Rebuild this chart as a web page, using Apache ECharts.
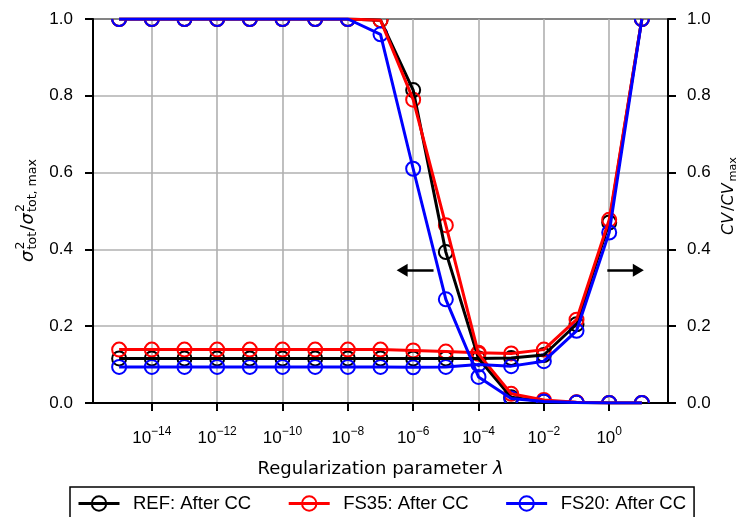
<!DOCTYPE html>
<html>
<head>
<meta charset="utf-8">
<script src="https://cdn.jsdelivr.net/npm/echarts@6/dist/echarts.min.js"></script>
<style>
  html, body { margin: 0; padding: 0; background: #ffffff; }
  #chart { width: 737px; height: 517px; }
</style>
</head>
<body>
<div id="chart"></div>
<script>
// Regularization parameter values (x)
const lambdas = [1e-15, 1e-14, 1e-13, 1e-12, 1e-11, 1e-10, 1e-9, 1e-8, 1e-7,
                 1e-6, 1e-5, 1e-4, 1e-3, 1e-2, 1e-1, 1e0, 1e1];

// Decade ticks shown on the x axis
const xTickValues = [1e-14, 1e-12, 1e-10, 1e-8, 1e-6, 1e-4, 1e-2, 1e0];

// Series labels and colours
const seriesNames = ['REF: After CC', 'FS35: After CC', 'FS20: After CC'];
const seriesColors = ['#000000', '#ff0000', '#0000ff'];

// Normalised total variance (left axis)
const varRef  = [1, 1, 1, 1, 1, 1, 1, 1, 0.997, 0.815, 0.393, 0.116, 0.015, 0.004, 0.001, 0.0, 0.0];
const varFs35 = [1, 1, 1, 1, 1, 1, 1, 1, 0.997, 0.790, 0.463, 0.128, 0.024, 0.008, 0.002, 0.0, 0.0];
const varFs20 = [1, 1, 1, 1, 1, 1, 1, 1, 0.960, 0.610, 0.270, 0.068, 0.012, 0.004, 0.001, 0.0, 0.0];

// Normalised CV (right axis)
const cvRef  = [0.116, 0.116, 0.116, 0.116, 0.116, 0.116, 0.116, 0.116, 0.116, 0.116, 0.116, 0.116, 0.117, 0.125, 0.205, 0.470, 1.0];
const cvFs35 = [0.139, 0.139, 0.139, 0.139, 0.139, 0.139, 0.139, 0.139, 0.139, 0.137, 0.134, 0.131, 0.129, 0.139, 0.217, 0.477, 1.0];
const cvFs20 = [0.094, 0.094, 0.094, 0.094, 0.094, 0.094, 0.094, 0.094, 0.094, 0.093, 0.094, 0.100, 0.096, 0.109, 0.188, 0.444, 1.0];

// Direction arrows: [tail, head] lambda positions and their height
const arrowLeft  = [4.2e-6, 4.6e-7];
const arrowRight = [0.875, 7.8];
const arrowLevel = 0.346;

const varSets = [varRef, varFs35, varFs20];
const cvSets  = [cvRef, cvFs35, cvFs20];

const tickFont = 'Liberation Sans';
const supMinus = '\u2212';

function pairs(values) {
  return lambdas.map((l, i) => [l, values[i]]);
}

function lineSeries(name, color, values, yAxisIndex) {
  return {
    type: 'line',
    name: name,
    xAxisIndex: 0,
    yAxisIndex: yAxisIndex,
    data: pairs(values),
    symbol: 'none',
    clip: true,
    lineStyle: { color: color, width: 3 },
    itemStyle: { color: color },
    emphasis: { disabled: true },
    silent: true
  };
}

// hollow circle markers, clipped to the plotting area
function markerSeries(name, color, values, yAxisIndex) {
  return {
    type: 'custom',
    name: name,
    xAxisIndex: 0,
    yAxisIndex: yAxisIndex,
    clip: true,
    silent: true,
    data: pairs(values),
    encode: { x: 0, y: 1 },
    renderItem: function (params, api) {
      const p = api.coord([api.value(0), api.value(1)]);
      return {
        type: 'circle',
        shape: { cx: p[0], cy: p[1], r: 7 },
        style: { fill: 'none', stroke: color, lineWidth: 2 }
      };
    }
  };
}

const series = [];
for (let k = 0; k < 3; k++) {
  const v = lineSeries(seriesNames[k], seriesColors[k], varSets[k], 0);
  if (k === 0) {
    v.markLine = {
      silent: true,
      animation: false,
      symbol: ['none', 'triangle'],
      symbolSize: [13, 11],
      label: { show: false },
      lineStyle: { color: '#000000', width: 2.5, type: 'solid' },
      emphasis: { disabled: true },
      data: [
        [{ coord: [arrowLeft[0], arrowLevel] }, { coord: [arrowLeft[1], arrowLevel] }],
        [{ coord: [arrowRight[0], arrowLevel] }, { coord: [arrowRight[1], arrowLevel] }]
      ]
    };
  }
  series.push(v);
  series.push(lineSeries(seriesNames[k], seriesColors[k], cvSets[k], 1));
  series.push(markerSeries(seriesNames[k], seriesColors[k], varSets[k], 0));
  series.push(markerSeries(seriesNames[k], seriesColors[k], cvSets[k], 1));
}

// axis titles written as small math layouts, rotated to read upwards
function mathTitle(x, y, parts) {
  return {
    type: 'group',
    x: x,
    y: y,
    rotation: Math.PI / 2,
    silent: true,
    children: parts.map(p => ({
      type: 'text',
      x: p.dx,
      y: p.dy,
      style: {
        text: p.text,
        font: p.font,
        fill: '#000000',
        align: 'left',
        verticalAlign: 'middle',
        textAlign: 'left',
        textVerticalAlign: 'middle'
      }
    }))
  };
}

function fonts(m) {
  return {
    it: 'italic ' + m + 'px "DejaVu Sans"',
    up: m + 'px "DejaVu Sans"',
    sc: (m * 0.7).toFixed(1) + 'px "DejaVu Sans"'
  };
}

const fl = fonts(18);
const leftTitle = mathTitle(28, 262, [
  { text: '\u03c3', font: fl.it, dx: 0, dy: 0 },
  { text: '2', font: fl.sc, dx: 12.5, dy: -7 },
  { text: 'tot', font: fl.sc, dx: 12.5, dy: 5 },
  { text: '/', font: fl.up, dx: 31, dy: 0 },
  { text: '\u03c3', font: fl.it, dx: 37.5, dy: 0 },
  { text: '2', font: fl.sc, dx: 50, dy: -7 },
  { text: 'tot, max', font: fl.sc, dx: 50, dy: 5 }
]);

const fr = fonts(16);
const rightTitle = mathTitle(729, 235, [
  { text: 'CV', font: fr.it, dx: 0, dy: 0 },
  { text: '/', font: fr.up, dx: 24, dy: 0 },
  { text: 'CV', font: fr.it, dx: 29.5, dy: 0 },
  { text: 'max', font: fr.sc, dx: 53.5, dy: 4.5 }
]);

const option = {
  animation: false,
  backgroundColor: '#ffffff',
  grid: {
    left: 93, right: 69, top: 19, bottom: 114,
    show: true, borderColor: '#000000', borderWidth: 2, backgroundColor: 'transparent'
  },
  legend: {
    left: 70,
    top: 487,
    orient: 'horizontal',
    padding: [7, 8, 20, 7],
    itemWidth: 41,
    itemHeight: 18,
    itemGap: 36,
    borderColor: '#000000',
    borderWidth: 1.5,
    borderRadius: 0,
    backgroundColor: '#ffffff',
    selectedMode: false,
    textStyle: { fontFamily: tickFont, fontSize: 18.5, color: '#000000', padding: [0, 0, 0, 8.5] },
    data: seriesNames.map((n, k) => ({
      name: n,
      itemStyle: { color: 'rgba(0,0,0,0)', borderColor: seriesColors[k], borderWidth: 2 },
      lineStyle: { color: seriesColors[k], width: 3 }
    }))
  },
  xAxis: {
    type: 'log',
    logBase: 10,
    min: Math.pow(10, -15.8),
    max: Math.pow(10, 1.8),
    name: '{n|Regularization parameter }{l|\u03bb}',
    nameLocation: 'middle',
    nameGap: 57,
    nameTextStyle: {
      rich: {
        n: { fontFamily: 'DejaVu Sans', fontSize: 18, color: '#000000' },
        l: { fontFamily: 'DejaVu Sans', fontSize: 18, fontStyle: 'italic', color: '#000000' }
      }
    },
    axisLine: { show: true, onZero: false, lineStyle: { color: '#000000', width: 2 } },
    axisTick: { show: true, inside: false, length: 8, lineStyle: { color: '#000000', width: 2 }, customValues: xTickValues },
    minorTick: { show: false },
    axisLabel: {
      customValues: xTickValues,
      margin: 23,
      formatter: function (v) {
        const e = Math.round(Math.log10(v));
        const t = e < 0 ? supMinus + String(-e) : String(e);
        return '{b|10}{s|' + t + '}';
      },
      rich: {
        b: { fontFamily: tickFont, fontSize: 17, color: '#000000', verticalAlign: 'bottom' },
        s: { fontFamily: tickFont, fontSize: 12, color: '#000000', verticalAlign: 'bottom', padding: [0, 0, 9, 0] }
      }
    },
    splitLine: { show: true, lineStyle: { color: '#b0b0b0', width: 1.6 } }
  },
  yAxis: [
    {
      type: 'value',
      min: 0, max: 1, interval: 0.2,
      position: 'left',
      axisLine: { show: true, onZero: false, lineStyle: { color: '#000000', width: 2 } },
      axisTick: { show: true, inside: false, length: 8, lineStyle: { color: '#000000', width: 2 } },
      axisLabel: {
        margin: 20, fontFamily: tickFont, fontSize: 17, color: '#000000',
        formatter: v => v.toFixed(1)
      },
      splitLine: { show: true, lineStyle: { color: '#b0b0b0', width: 1.6 } }
    },
    {
      type: 'value',
      min: 0, max: 1, interval: 0.2,
      position: 'right',
      axisLine: { show: true, onZero: false, lineStyle: { color: '#000000', width: 2 } },
      axisTick: { show: true, inside: false, length: 8, lineStyle: { color: '#000000', width: 2 } },
      axisLabel: {
        margin: 19, fontFamily: tickFont, fontSize: 17, color: '#000000',
        formatter: v => v.toFixed(1)
      },
      splitLine: { show: false }
    }
  ],
  graphic: [leftTitle, rightTitle],
  series: series
};

const chart = echarts.init(document.getElementById('chart'), null, { renderer: 'canvas' });
chart.setOption(option);
</script>
</body>
</html>
